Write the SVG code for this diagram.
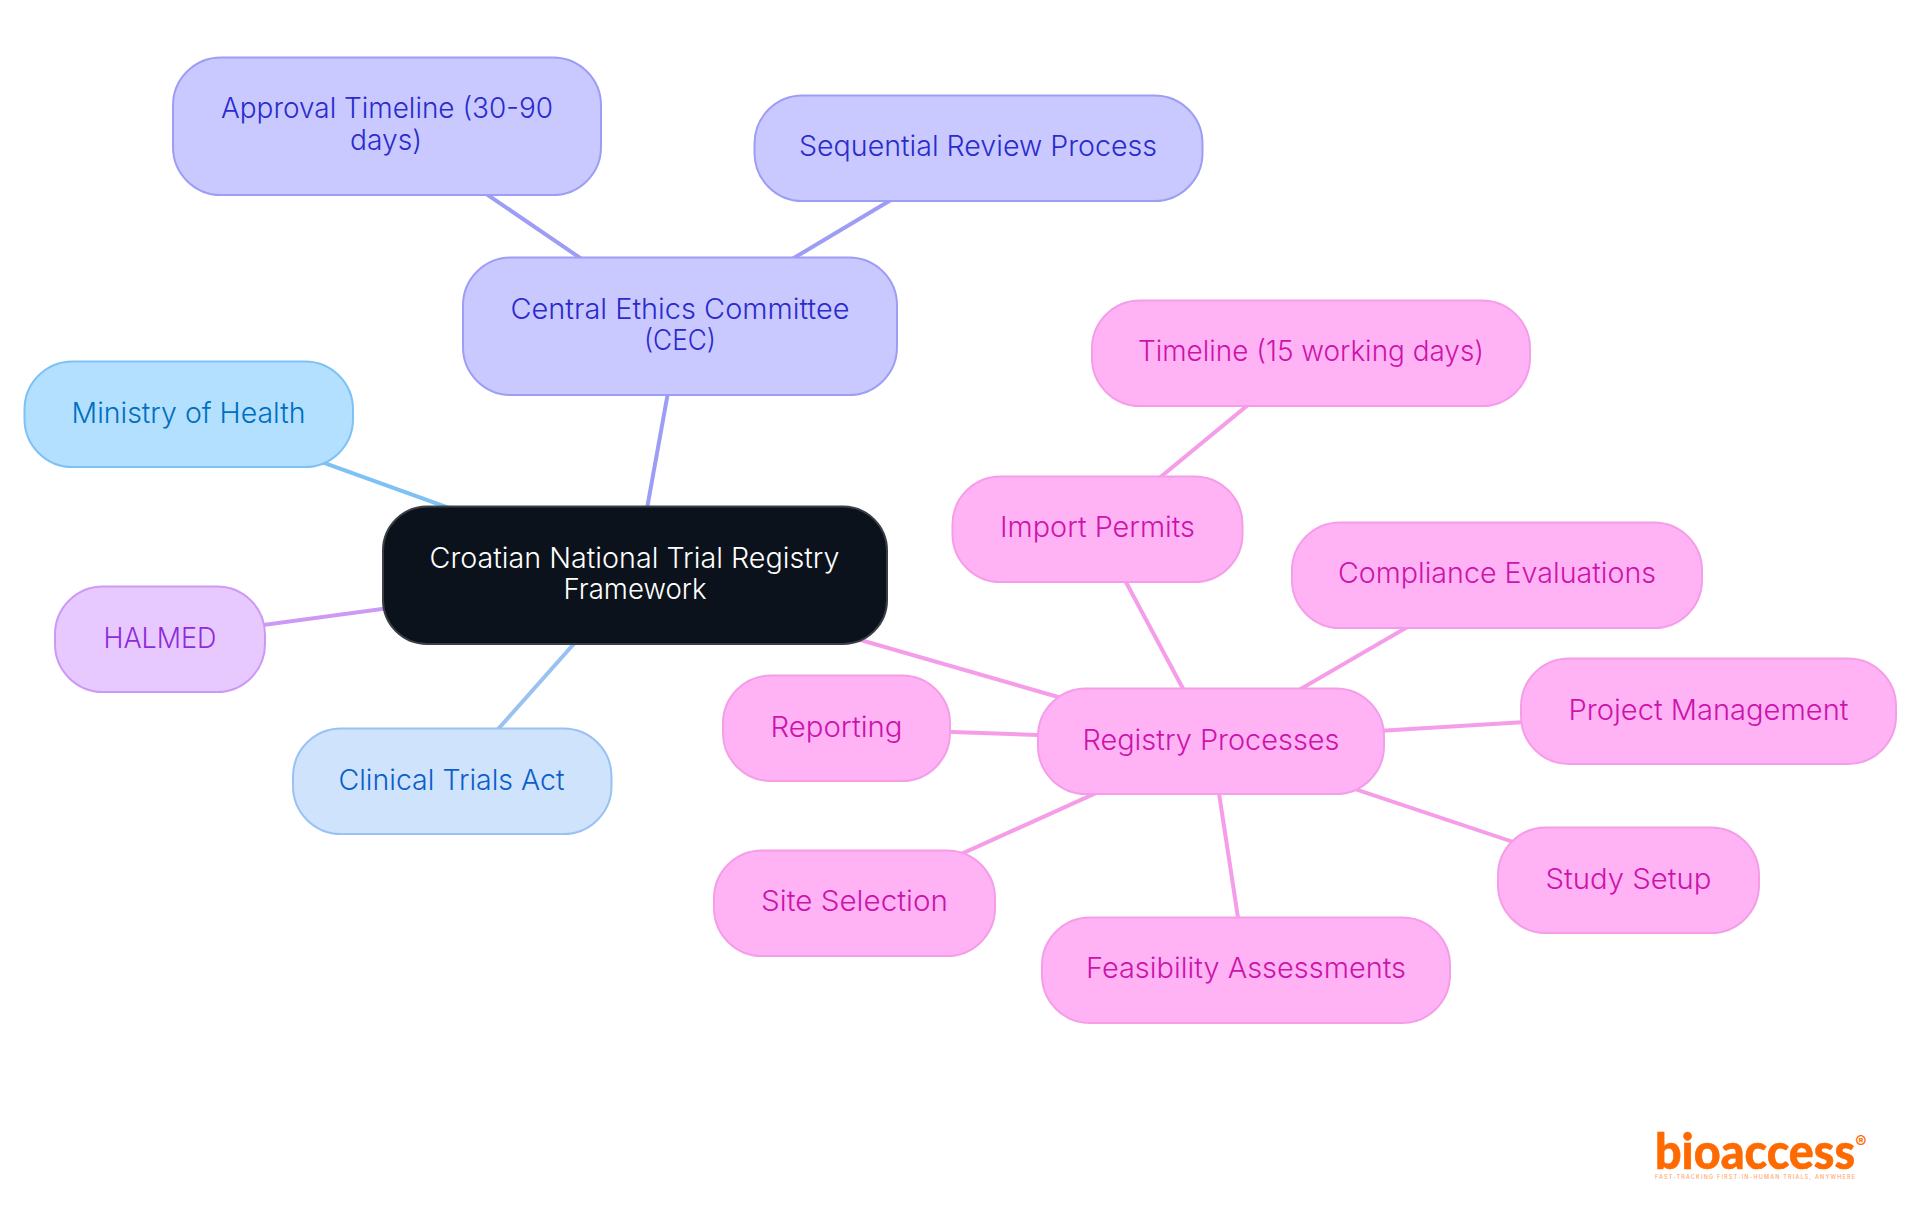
<svg xmlns="http://www.w3.org/2000/svg" width="1920" height="1215" viewBox="0 0 1920 1215">
<style>
text{font-family:"Inter","Noto Sans",sans-serif;font-size:28px;font-weight:300;text-anchor:middle}
rect{stroke-width:2}
line{stroke-width:4}
.root rect{fill:#0b121b;stroke:#3a3f46;rx:44px}
.root text{fill:#fff}
.blue rect{fill:#b3e0ff;stroke:#7ec2f5;rx:48px}
.blue text{fill:#006fc0}
.violet rect{fill:#e8c9ff;stroke:#cc99f5;rx:48px}
.violet text{fill:#8f2bdb}
.indigo rect{fill:#c9c9ff;stroke:#9d9df5;rx:48px}
.indigo text{fill:#2b2bcc}
.pink rect{fill:#ffb3f5;stroke:#f59de8;rx:48px}
.pink text{fill:#cc14aa}
.sky rect{fill:#cfe3fc;stroke:#99c2f2;rx:48px}
.sky text{fill:#0b5fc9}
.e-blue{stroke:#7ec2f5}.e-violet{stroke:#cc99f5}.e-indigo{stroke:#9d9df5}.e-pink{stroke:#f59de8}.e-sky{stroke:#99c2f2}
.logo{fill:#ff6a00}
</style>
<rect width="1920" height="1215" fill="#fff" style="stroke:none"/>
<g id="connectors">
<line class="e-indigo" x1="635" y1="575" x2="680" y2="326"/>
<line class="e-indigo" x1="680" y1="326" x2="386.500" y2="126"/>
<line class="e-indigo" x1="680" y1="326" x2="978" y2="148"/>
<line class="e-blue" x1="635" y1="575" x2="188.500" y2="414"/>
<line class="e-violet" x1="635" y1="575" x2="160" y2="639"/>
<line class="e-sky" x1="635" y1="575" x2="452" y2="781"/>
<line class="e-pink" x1="635" y1="575" x2="1211" y2="741"/>
<line class="e-pink" x1="1211" y1="741" x2="1097.500" y2="529"/>
<line class="e-pink" x1="1097.500" y1="529" x2="1311.500" y2="352.500"/>
<line class="e-pink" x1="1211" y1="741" x2="1497" y2="575"/>
<line class="e-pink" x1="1211" y1="741" x2="1708.500" y2="711"/>
<line class="e-pink" x1="1211" y1="741" x2="836.500" y2="728"/>
<line class="e-pink" x1="1211" y1="741" x2="854" y2="902.500"/>
<line class="e-pink" x1="1211" y1="741" x2="1246" y2="970"/>
<line class="e-pink" x1="1211" y1="741" x2="1628.500" y2="880.500"/>
</g>
<g id="root" class="root"><rect x="383" y="506.500" width="504" height="137.500"/><text x="634.500" y="568" textLength="410" lengthAdjust="spacingAndGlyphs">Croatian National Trial Registry</text><text x="635" y="599" textLength="143" lengthAdjust="spacingAndGlyphs">Framework</text></g>
<g id="cec" class="indigo"><rect x="463" y="257.500" width="434" height="137.500"/><text x="680" y="319" textLength="339" lengthAdjust="spacingAndGlyphs">Central Ethics Committee</text><text x="680" y="350" textLength="72" lengthAdjust="spacingAndGlyphs">(CEC)</text></g>
<g id="approval" class="indigo"><rect x="173" y="57.500" width="428" height="137.500"/><text x="387" y="118" textLength="332" lengthAdjust="spacingAndGlyphs">Approval Timeline (30-90</text><text x="386" y="150" textLength="72" lengthAdjust="spacingAndGlyphs">days)</text></g>
<g id="sequential" class="indigo"><rect x="754.500" y="95.500" width="448" height="105.500"/><text x="978" y="156" textLength="358" lengthAdjust="spacingAndGlyphs">Sequential Review Process</text></g>
<g id="ministry" class="blue"><rect x="24.500" y="361.500" width="328.500" height="105.500"/><text x="188.500" y="423" textLength="234" lengthAdjust="spacingAndGlyphs">Ministry of Health</text></g>
<g id="halmed" class="violet"><rect x="55" y="586.500" width="210" height="105.500"/><text x="160" y="648" textLength="113" lengthAdjust="spacingAndGlyphs">HALMED</text></g>
<g id="clinical" class="sky"><rect x="293" y="728.500" width="318.500" height="105.500"/><text x="451.500" y="790" textLength="226" lengthAdjust="spacingAndGlyphs">Clinical Trials Act</text></g>
<g id="registry" class="pink"><rect x="1038" y="688.500" width="346" height="105.500"/><text x="1211" y="750" textLength="257" lengthAdjust="spacingAndGlyphs">Registry Processes</text></g>
<g id="timeline" class="pink"><rect x="1092" y="300.500" width="438" height="105.500"/><text x="1311" y="361" textLength="346" lengthAdjust="spacingAndGlyphs">Timeline (15 working days)</text></g>
<g id="import" class="pink"><rect x="952.500" y="476.500" width="290" height="105.500"/><text x="1097.500" y="537" textLength="195" lengthAdjust="spacingAndGlyphs">Import Permits</text></g>
<g id="compliance" class="pink"><rect x="1292" y="522.500" width="410" height="105.500"/><text x="1497" y="583" textLength="318" lengthAdjust="spacingAndGlyphs">Compliance Evaluations</text></g>
<g id="project" class="pink"><rect x="1521" y="658.500" width="375" height="105.500"/><text x="1708.500" y="720" textLength="280" lengthAdjust="spacingAndGlyphs">Project Management</text></g>
<g id="reporting" class="pink"><rect x="723" y="675.500" width="227" height="105.500"/><text x="836.500" y="737" textLength="132" lengthAdjust="spacingAndGlyphs">Reporting</text></g>
<g id="site" class="pink"><rect x="714" y="850.500" width="281" height="105.500"/><text x="854.500" y="911" textLength="187" lengthAdjust="spacingAndGlyphs">Site Selection</text></g>
<g id="feasibility" class="pink"><rect x="1042" y="917.500" width="408" height="105.500"/><text x="1246" y="978" textLength="320" lengthAdjust="spacingAndGlyphs">Feasibility Assessments</text></g>
<g id="study" class="pink"><rect x="1498" y="827.500" width="261" height="105.500"/><text x="1628.500" y="889" textLength="166" lengthAdjust="spacingAndGlyphs">Study Setup</text></g>
<g id="logo">
<text class="logo" x="1655" y="1169" textLength="200" lengthAdjust="spacingAndGlyphs" style="font-family:Lato,'Noto Sans',sans-serif;font-size:50px;font-weight:900;text-anchor:start;stroke:#ff6a00;stroke-width:.6">bioaccess</text>
<text class="logo" x="1861" y="1148" style="font-size:17px;font-weight:700">®</text>
<text class="logo" x="1655" y="1179" textLength="200" style="font-size:5.500px;font-weight:500;text-anchor:start;opacity:.6">FAST-TRACKING FIRST-IN-HUMAN TRIALS, ANYWHERE</text>
</g>
</svg>
